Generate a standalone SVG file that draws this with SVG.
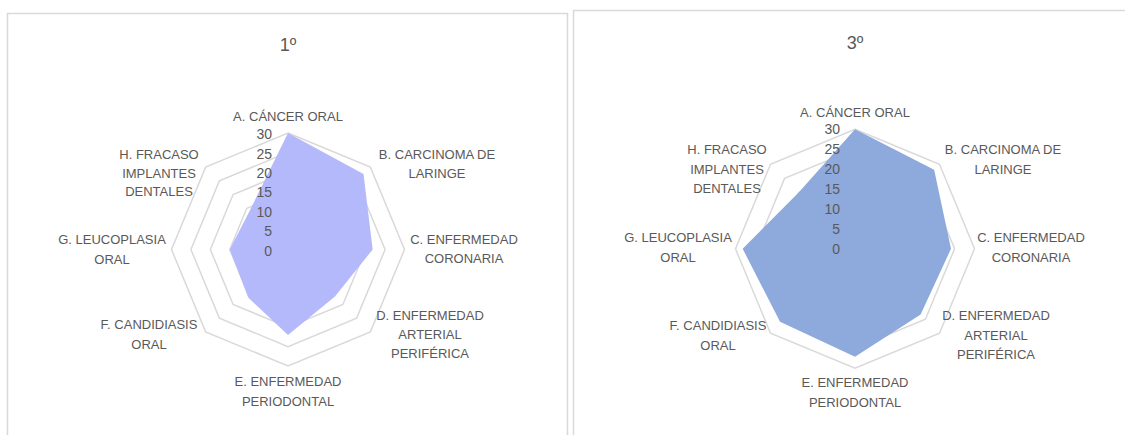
<svg xmlns="http://www.w3.org/2000/svg" width="1125" height="435" viewBox="0 0 1125 435">
<style>
.panel{fill:#fff;stroke:#d9d9d9;stroke-width:1.5}
.ring{fill:none;stroke:#d9d9d9;stroke-width:1.5;vector-effect:non-scaling-stroke}
.title{font-family:"Liberation Sans",Arial,sans-serif;font-size:18px;fill:#595959;text-anchor:middle}
.lbl{font-family:"Liberation Sans",Arial,sans-serif;font-size:13px;fill:#595959;text-anchor:middle}
.num{font-family:"Liberation Sans",Arial,sans-serif;font-size:14px;fill:#595959;text-anchor:end}
</style>
<defs>
<g id="rings">
<polygon class="ring" points="0,-20 14.142,-14.142 20,0 14.142,14.142 0,20 -14.142,14.142 -20,0 -14.142,-14.142"/>
<polygon class="ring" points="0,-40 28.284,-28.284 40,0 28.284,28.284 0,40 -28.284,28.284 -40,0 -28.284,-28.284"/>
<polygon class="ring" points="0,-60 42.426,-42.426 60,0 42.426,42.426 0,60 -42.426,42.426 -60,0 -42.426,-42.426"/>
<polygon class="ring" points="0,-80 56.569,-56.569 80,0 56.569,56.569 0,80 -56.569,56.569 -80,0 -56.569,-56.569"/>
<polygon class="ring" points="0,-100 70.711,-70.711 100,0 70.711,70.711 0,100 -70.711,70.711 -100,0 -70.711,-70.711"/>
<polygon class="ring" points="0,-120 84.853,-84.853 120,0 84.853,84.853 0,120 -84.853,84.853 -120,0 -84.853,-84.853"/>
</g>
</defs>
<rect width="1125" height="435" fill="#fff"/>

<g id="chart-1">
<rect class="panel" x="7.5" y="13.5" width="560" height="440"/>
<text class="title" x="288" y="51">1º</text>
<g transform="translate(288,249.5) scale(0.9708)">
<use href="#rings"/>
<polygon fill="#b4b9fb" points="0,-120 77.78,-77.78 87.2,0 48.37,48.37 0,88 -41,49.5 -60,0 -39.6,-39.6"/>
</g>
<g class="num-axis">
<text class="num" x="272" y="139">30</text>
<text class="num" x="272" y="158.5">25</text>
<text class="num" x="272" y="177.8">20</text>
<text class="num" x="272" y="197.2">15</text>
<text class="num" x="272" y="216.6">10</text>
<text class="num" x="272" y="236">5</text>
<text class="num" x="272" y="255.5">0</text>
</g>
<g id="l1-A"><text class="lbl" x="288" y="121">A. CÁNCER ORAL</text></g>
<g id="l1-B"><text class="lbl" x="437" y="159">B. CARCINOMA DE</text><text class="lbl" x="437" y="177.5">LARINGE</text></g>
<g id="l1-C"><text class="lbl" x="464" y="244">C. ENFERMEDAD</text><text class="lbl" x="464" y="263">CORONARIA</text></g>
<g id="l1-D"><text class="lbl" x="430" y="320">D. ENFERMEDAD</text><text class="lbl" x="430" y="339">ARTERIAL</text><text class="lbl" x="430" y="358">PERIFÉRICA</text></g>
<g id="l1-E"><text class="lbl" x="288" y="386">E. ENFERMEDAD</text><text class="lbl" x="288" y="406">PERIODONTAL</text></g>
<g id="l1-F"><text class="lbl" x="149" y="329">F. CANDIDIASIS</text><text class="lbl" x="149" y="349">ORAL</text></g>
<g id="l1-G"><text class="lbl" x="112" y="244">G. LEUCOPLASIA</text><text class="lbl" x="112" y="264">ORAL</text></g>
<g id="l1-H"><text class="lbl" x="159" y="159">H. FRACASO</text><text class="lbl" x="159" y="177.5">IMPLANTES</text><text class="lbl" x="159" y="196">DENTALES</text></g>
</g>

<g id="chart-3">
<rect class="panel" x="573.5" y="10.5" width="570" height="440"/>
<text class="title" x="855" y="49">3º</text>
<g transform="translate(855,248.8) scale(0.9958)">
<use href="#rings"/>
<polygon fill="#8eaadc" points="0,-120 79.48,-79.48 96.4,0 65.9,65.9 0,108.4 -75.3,73.2 -112.8,0 -56.57,-56.57"/>
</g>
<g class="num-axis">
<text class="num" x="840" y="134">30</text>
<text class="num" x="840" y="154">25</text>
<text class="num" x="840" y="173.8">20</text>
<text class="num" x="840" y="193.7">15</text>
<text class="num" x="840" y="213.6">10</text>
<text class="num" x="840" y="233.5">5</text>
<text class="num" x="840" y="253.5">0</text>
</g>
<g id="l3-A"><text class="lbl" x="855" y="117">A. CÁNCER ORAL</text></g>
<g id="l3-B"><text class="lbl" x="1003" y="154">B. CARCINOMA DE</text><text class="lbl" x="1003" y="174">LARINGE</text></g>
<g id="l3-C"><text class="lbl" x="1031" y="242">C. ENFERMEDAD</text><text class="lbl" x="1031" y="262">CORONARIA</text></g>
<g id="l3-D"><text class="lbl" x="996" y="320">D. ENFERMEDAD</text><text class="lbl" x="996" y="340">ARTERIAL</text><text class="lbl" x="996" y="359">PERIFÉRICA</text></g>
<g id="l3-E"><text class="lbl" x="855" y="387">E. ENFERMEDAD</text><text class="lbl" x="855" y="407">PERIODONTAL</text></g>
<g id="l3-F"><text class="lbl" x="718" y="330">F. CANDIDIASIS</text><text class="lbl" x="718" y="350">ORAL</text></g>
<g id="l3-G"><text class="lbl" x="678" y="242">G. LEUCOPLASIA</text><text class="lbl" x="678" y="262">ORAL</text></g>
<g id="l3-H"><text class="lbl" x="727" y="154">H. FRACASO</text><text class="lbl" x="727" y="174">IMPLANTES</text><text class="lbl" x="727" y="193">DENTALES</text></g>
</g>
</svg>
